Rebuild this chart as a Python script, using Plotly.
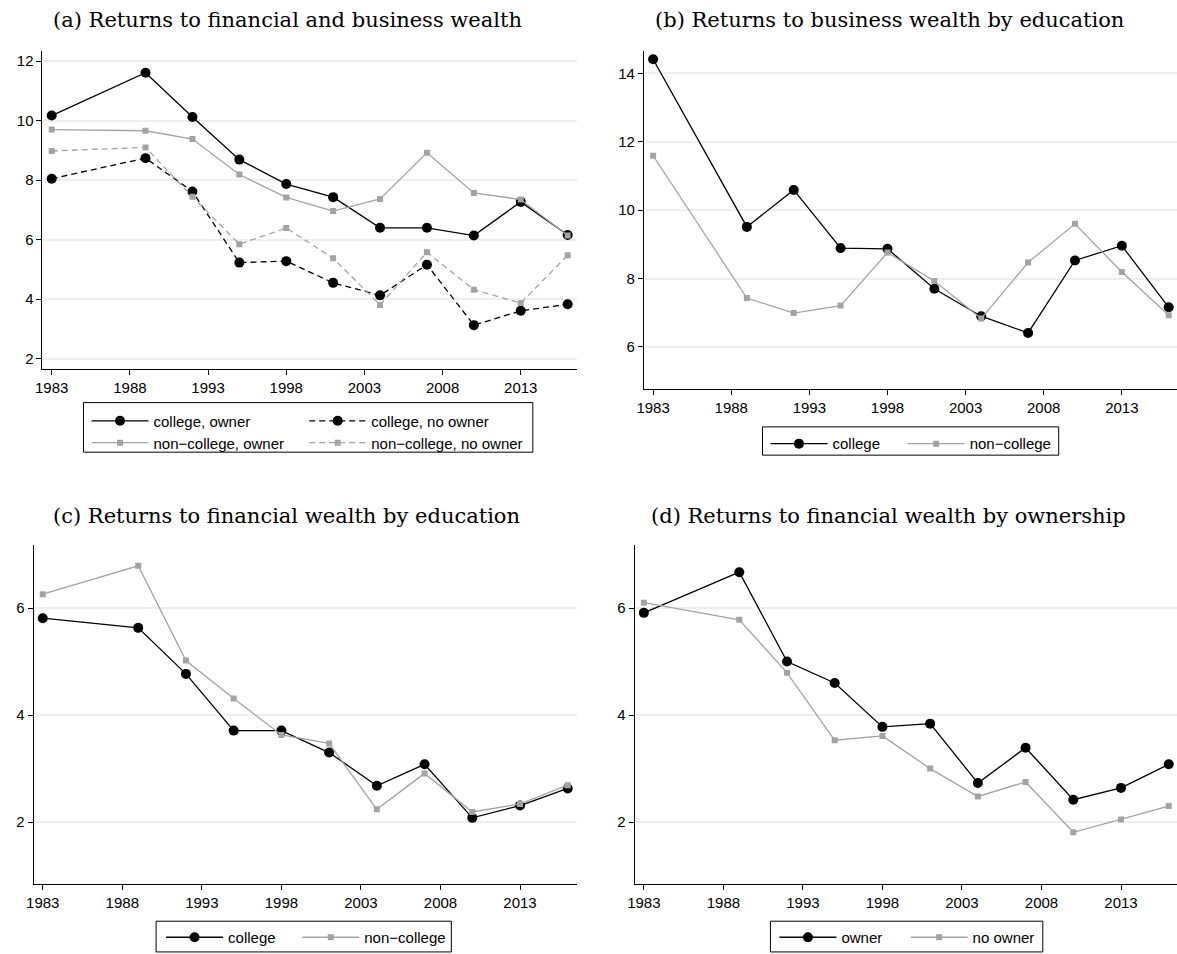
import plotly.graph_objects as go

# Survey years
years = [1983, 1989, 1992, 1995, 1998, 2001, 2004, 2007, 2010, 2013, 2016]
year_ticks = [1983, 1988, 1993, 1998, 2003, 2008, 2013]

# (a) Returns to financial and business wealth
a_college_owner = [10.17, 11.61, 10.12, 8.69, 7.87, 7.43, 6.40, 6.40, 6.14, 7.27, 6.16]
a_college_noowner = [8.05, 8.74, 7.62, 5.23, 5.28, 4.55, 4.13, 5.16, 3.13, 3.61, 3.83]
a_noncollege_owner = [9.70, 9.66, 9.38, 8.19, 7.42, 6.96, 7.37, 8.92, 7.57, 7.35, 6.14]
a_noncollege_noowner = [8.98, 9.10, 7.44, 5.85, 6.39, 5.38, 3.81, 5.58, 4.32, 3.87, 5.48]

# (b) Returns to business wealth by education
b_college = [14.41, 9.51, 10.59, 8.89, 8.87, 7.70, 6.90, 6.41, 8.53, 8.96, 7.16]
b_noncollege = [11.59, 7.43, 6.99, 7.21, 8.76, 7.93, 6.83, 8.47, 9.60, 8.19, 6.93]

# (c) Returns to financial wealth by education
c_college = [5.81, 5.63, 4.77, 3.71, 3.71, 3.30, 2.68, 3.08, 2.08, 2.31, 2.63]
c_noncollege = [6.26, 6.79, 5.02, 4.31, 3.63, 3.47, 2.24, 2.91, 2.19, 2.34, 2.69]

# (d) Returns to financial wealth by ownership
d_owner = [5.91, 6.67, 5.00, 4.60, 3.78, 3.84, 2.73, 3.39, 2.42, 2.64, 3.08]
d_noowner = [6.10, 5.78, 4.79, 3.53, 3.61, 3.00, 2.48, 2.75, 1.81, 2.05, 2.30]

W, H = 1177, 954
BLACK = "#000000"
GRAY = "#A3A3A3"
GRID = "#EAF0F1"
SANS = "Liberation Sans"
SERIF = "DejaVu Serif"


def px_x(p):
    return p / W


def px_y(p):
    return 1 - p / H


# (name, values, style, dash, axis suffix, legend left px, legend top px)
series = [
    ("college, owner", a_college_owner, "black", "solid", "", 80, 408),
    ("college, no owner", a_college_noowner, "black", "6px,4px", "", 299, 408),
    ("non\u2212college, owner", a_noncollege_owner, "gray", "solid", "", 80, 430),
    ("non\u2212college, no owner", a_noncollege_noowner, "gray", "6px,4px", "", 299, 430),
    ("college", b_college, "black", "solid", "2", 763, 431),
    ("non\u2212college", b_noncollege, "gray", "solid", "2", 901, 431),
    ("college", c_college, "black", "solid", "3", 155, 929),
    ("non\u2212college", c_noncollege, "gray", "solid", "3", 292, 929),
    ("owner", d_owner, "black", "solid", "4", 772, 929),
    ("no owner", d_noowner, "gray", "solid", "4", 904, 929),
]

fig = go.Figure()
legends = {}
for i, (name, vals, style, dash, ax, lx, ly) in enumerate(series):
    leg = "legend" if i == 0 else f"legend{i + 1}"
    if style == "black":
        line = dict(color=BLACK, width=1.3, dash=dash)
        marker = dict(symbol="circle", size=10, color=BLACK)
    else:
        line = dict(color=GRAY, width=1.3, dash=dash)
        marker = dict(symbol="square", size=6, color=GRAY)
    fig.add_trace(go.Scatter(
        x=years, y=vals, name=name, mode="lines+markers",
        xaxis="x" + ax, yaxis="y" + ax, legend=leg, line=line, marker=marker,
    ))
    legends[leg] = dict(
        orientation="h", xanchor="left", yanchor="top", bgcolor="rgba(255,255,255,0)",
        font=dict(family=SANS, size=15, color=BLACK), itemwidth=57, borderwidth=0,
        itemclick=False, itemdoubleclick=False, x=px_x(lx), y=px_y(ly),
    )

tick_font = dict(family=SANS, size=15, color=BLACK)


def xaxis(domain, rng, anchor):
    return dict(
        domain=domain, range=rng, anchor=anchor, tickmode="array", tickvals=year_ticks,
        ticktext=[str(t) for t in year_ticks], showgrid=False, zeroline=False,
        showline=True, linecolor=BLACK, linewidth=1, ticks="outside", ticklen=5,
        tickcolor=BLACK, tickfont=tick_font, fixedrange=True,
    )


def yaxis(domain, rng, anchor, vals):
    return dict(
        domain=domain, range=rng, anchor=anchor, tickmode="array", tickvals=vals,
        ticktext=[str(v) for v in vals], showgrid=True, gridcolor=GRID, gridwidth=1.5,
        zeroline=False, showline=True, linecolor=BLACK, linewidth=1, ticks="outside",
        ticklen=5, tickcolor=BLACK, tickfont=tick_font, fixedrange=True,
    )


fig.update_layout(
    width=W, height=H, margin=dict(l=0, r=0, t=0, b=0),
    paper_bgcolor="white", plot_bgcolor="white", showlegend=True,
    xaxis=xaxis([px_x(35.7), px_x(573.3)], [1982.41, 2016.59], "y"),
    yaxis=yaxis([px_y(371.7), px_y(51.7)], [1.67, 12.33], "x", [2, 4, 6, 8, 10, 12]),
    xaxis2=xaxis([px_x(640.7), 1.0], [1982.41, 2016.53], "y2"),
    yaxis2=yaxis([px_y(392.7), px_y(51.5)], [4.76, 14.65], "x2", [6, 8, 10, 12, 14]),
    xaxis3=xaxis([px_x(26.7), px_x(573.7)], [1982.42, 2016.6], "y3"),
    yaxis3=yaxis([px_y(891.7), px_y(549.5)], [0.84, 7.18], "x3", [2, 4, 6]),
    xaxis4=xaxis([px_x(631.4), 1.0], [1982.42, 2016.52], "y4"),
    yaxis4=yaxis([px_y(891.7), px_y(549.5)], [0.84, 7.18], "x4", [2, 4, 6]),
    **legends,
)

# frames around each panel's legend
legend_boxes = [(77, 529, 406, 456), (760, 1058, 430.5, 459), (150, 447, 929, 960), (768, 1042, 929, 960)]
for x0, x1, y0, y1 in legend_boxes:
    fig.add_shape(type="rect", xref="paper", yref="paper",
                  x0=px_x(x0), x1=px_x(x1), y0=px_y(y1), y1=px_y(y0),
                  line=dict(color=BLACK, width=1), fillcolor="rgba(0,0,0,0)")

titles = [
    ("(a) Returns to financial and business wealth", 282, 20),
    ("(b) Returns to business wealth by education", 888, 20),
    ("(c) Returns to financial wealth by education", 281, 520),
    ("(d) Returns to financial wealth by ownership", 887, 520),
]
for text, cx, cy in titles:
    fig.add_annotation(text=text, xref="paper", yref="paper", x=px_x(cx), y=px_y(cy),
                       xanchor="center", yanchor="middle", showarrow=False,
                       font=dict(family=SERIF, size=21, color=BLACK))

fig.write_html("out.html")
